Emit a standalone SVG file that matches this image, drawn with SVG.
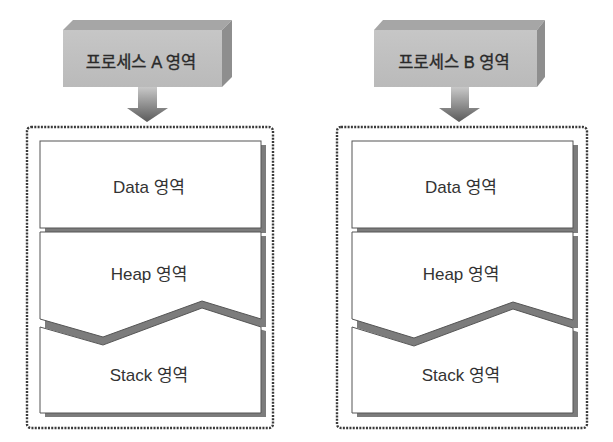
<svg xmlns="http://www.w3.org/2000/svg" width="613" height="442" viewBox="0 0 613 442">
<defs>
<linearGradient id="arrowGrad" x1="0" y1="0" x2="0" y2="1">
<stop offset="0" stop-color="#c8c8c8"/>
<stop offset="1" stop-color="#5a5a5a"/>
</linearGradient>
<linearGradient id="frontGrad" x1="0" y1="0" x2="0" y2="1">
<stop offset="0" stop-color="#c6c6c6"/>
<stop offset="1" stop-color="#bababa"/>
</linearGradient>
</defs>
<style>
.front{fill:url(#frontGrad);}
.top{fill:#a6a6a6;}
.side{fill:#8e8e8e;}
.arrow{fill:url(#arrowGrad);}
.frame{fill:none;stroke:#3a3a3a;stroke-width:2.4;stroke-dasharray:2 1.3;}
.seg{fill:#fff;stroke:#555;stroke-width:1;}
.shadow{fill:#7c7c7c;}
.lbl{font-family:"Liberation Sans","Noto Sans CJK KR",sans-serif;font-size:17px;fill:#333;text-anchor:middle;}
.hdr{font-family:"Liberation Sans","Noto Sans CJK KR",sans-serif;font-size:16.5px;fill:#2a2a2a;stroke:#2a2a2a;stroke-width:0.35;text-anchor:middle;}
</style>
<rect width="613" height="442" fill="#fff"/>

<g id="processA">
<polygon class="top" points="63,30 73,20 232,20 222,30"/>
<polygon class="side" points="222,30 232,20 232,77 222,87"/>
<rect class="front" x="63" y="30" width="159" height="57"/>
<text class="hdr" x="141" y="68">프로세스 A 영역</text>
</g>
<g id="processB">
<polygon class="top" points="374,30 383,20 545,20 537,30"/>
<polygon class="side" points="537,30 545,20 545,77 537,87"/>
<rect class="front" x="374" y="30" width="163" height="57"/>
<text class="hdr" x="454" y="68">프로세스 B 영역</text>
</g>

<g id="connectors">
<polygon class="arrow" points="138,87 157,87 157,108 168,108 147,122 127,108 138,108"/>
<polygon class="arrow" points="451,87 469,87 469,108 480,108 459,122 439,108 451,108"/>
</g>

<g id="memoryA">
<rect class="frame" x="27" y="127" width="246" height="301" rx="4"/>
<g id="dataA">
<rect class="shadow" x="45" y="145" width="221" height="88"/>
<rect class="seg" x="40" y="141" width="221" height="87"/>
<text class="lbl" x="149" y="193">Data 영역</text>
</g>
<g id="heapA">
<polygon class="shadow" points="45,236 266,236 266,327 261,327 202,309 103,345 45,328"/>
<polygon class="seg" points="40,232 261,232 261,319 202,301 103,337 40,319"/>
<text class="lbl" x="149" y="280">Heap 영역</text>
</g>
<g id="stackA">
<polygon class="shadow" points="45,332 107,349 206,313 266,331 266,417 45,417"/>
<polygon class="seg" points="40,327 103,345 202,308 261,327 261,413 40,413"/>
<text class="lbl" x="149" y="381">Stack 영역</text>
</g>
</g>

<g id="memoryB">
<rect class="frame" x="337" y="127" width="250" height="301" rx="4"/>
<g id="dataB">
<rect class="shadow" x="357" y="145" width="221" height="88"/>
<rect class="seg" x="352" y="141" width="221" height="87"/>
<text class="lbl" x="461" y="193">Data 영역</text>
</g>
<g id="heapB">
<polygon class="shadow" points="357,236 578,236 578,328 573,328 513,310 414,346 357,328"/>
<polygon class="seg" points="352,232 573,232 573,320 513,302 414,338 352,319"/>
<text class="lbl" x="461" y="280">Heap 영역</text>
</g>
<g id="stackB">
<polygon class="shadow" points="357,332 418,350 517,313 578,332 578,417 357,417"/>
<polygon class="seg" points="352,327 414,346 513,309 573,328 573,413 352,413"/>
<text class="lbl" x="461" y="381">Stack 영역</text>
</g>
</g>
</svg>
